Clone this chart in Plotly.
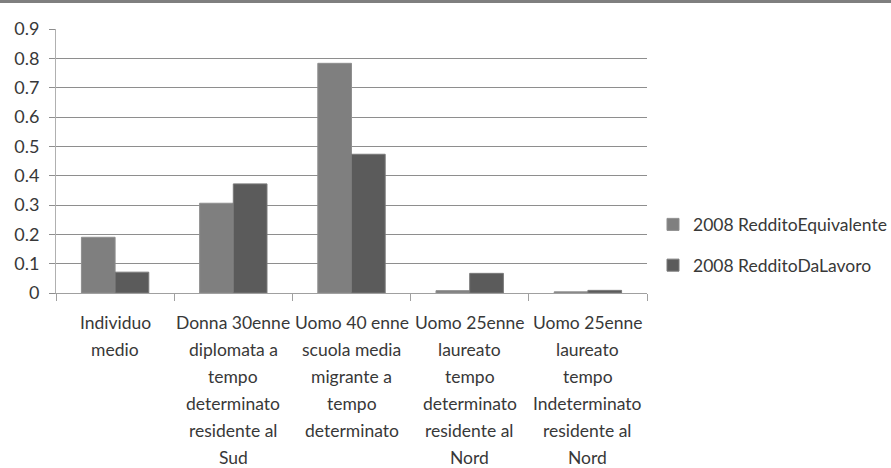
import plotly.graph_objects as go

categories = [
    "Individuo medio",
    "Donna 30enne diplomata a tempo determinato residente al Sud",
    "Uomo 40 enne scuola media migrante a tempo determinato",
    "Uomo 25enne laureato tempo determinato residente al Nord",
    "Uomo 25enne laureato tempo Indeterminato residente al Nord",
]
label_lines = [
    ["Individuo", "medio"],
    ["Donna 30enne", "diplomata a", "tempo", "determinato", "residente al", "Sud"],
    ["Uomo 40 enne", "scuola media", "migrante a", "tempo", "determinato"],
    ["Uomo 25enne", "laureato", "tempo", "determinato", "residente al", "Nord"],
    ["Uomo 25enne", "laureato", "tempo", "Indeterminato", "residente al", "Nord"],
]
series_names = ["2008 RedditoEquivalente", "2008 RedditoDaLavoro"]
reddito_equivalente = [0.19, 0.306, 0.783, 0.008, 0.004]
reddito_da_lavoro = [0.071, 0.372, 0.473, 0.067, 0.009]
y_ticks = [0, 0.1, 0.2, 0.3, 0.4, 0.5, 0.6, 0.7, 0.8, 0.9]
y_tick_text = ["0", "0.1", "0.2", "0.3", "0.4", "0.5", "0.6", "0.7", "0.8", "0.9"]

FONT = "Lato"
TXT = "#383838"

fig = go.Figure()
fig.add_trace(go.Bar(x=categories, y=reddito_equivalente, name=series_names[0],
                     marker=dict(color="#7f7f7f", line=dict(color="#8f8f8f", width=1)),
                     legendgroup="a"))
fig.add_trace(go.Bar(x=categories, y=reddito_da_lavoro, name=series_names[1],
                     marker=dict(color="#5b5b5b", line=dict(color="#7a7a7a", width=1)),
                     legendgroup="b"))

annotations = []
for cat, lines in zip(categories, label_lines):
    for i, ln in enumerate(lines):
        annotations.append(dict(x=cat, y=0, xref="x", yref="y", text=ln, showarrow=False,
                                yshift=-(29 + 27 * i), yanchor="middle", xanchor="center",
                                font=dict(family=FONT, size=17.5, color=TXT)))

fig.update_layout(
    width=891, height=468,
    margin=dict(l=56, r=244, t=29, b=175, autoexpand=False),
    paper_bgcolor="white", plot_bgcolor="white",
    barmode="group", bargap=0.43, bargroupgap=0,
    font=dict(family=FONT, size=18, color=TXT),
    showlegend=True,
    legend=dict(x=(653 - 56) / 591, xanchor="left", y=(293 - 245) / 264, yanchor="middle",
                font=dict(family=FONT, size=17.5, color=TXT),
                tracegroupgap=15, itemwidth=30, traceorder="grouped"),
    annotations=annotations,
    shapes=[dict(type="rect", xref="paper", yref="paper", x0=-0.2, x1=1.5,
                 y0=(293 - 3) / 264, y1=(293 + 2) / 264, fillcolor="#7f7f7f",
                 line=dict(width=0), layer="above")],
)
fig.update_xaxes(showticklabels=False, ticks="outside", tickson="boundaries", ticklen=7,
                 tickcolor="#a0a0a0", showline=True, linecolor="#a0a0a0", linewidth=1,
                 showgrid=False, zeroline=False)
fig.update_yaxes(range=[0, 0.9], tickvals=y_ticks, ticktext=y_tick_text, ticks="outside",
                 ticklen=6, tickcolor="#8e8e8e", showgrid=True, gridcolor="#8e8e8e",
                 gridwidth=1, showline=True, linecolor="#b0b0b0", zeroline=False,
                 tickfont=dict(family=FONT, size=18, color=TXT), ticklabelstandoff=6)

fig.write_html("out.html")
